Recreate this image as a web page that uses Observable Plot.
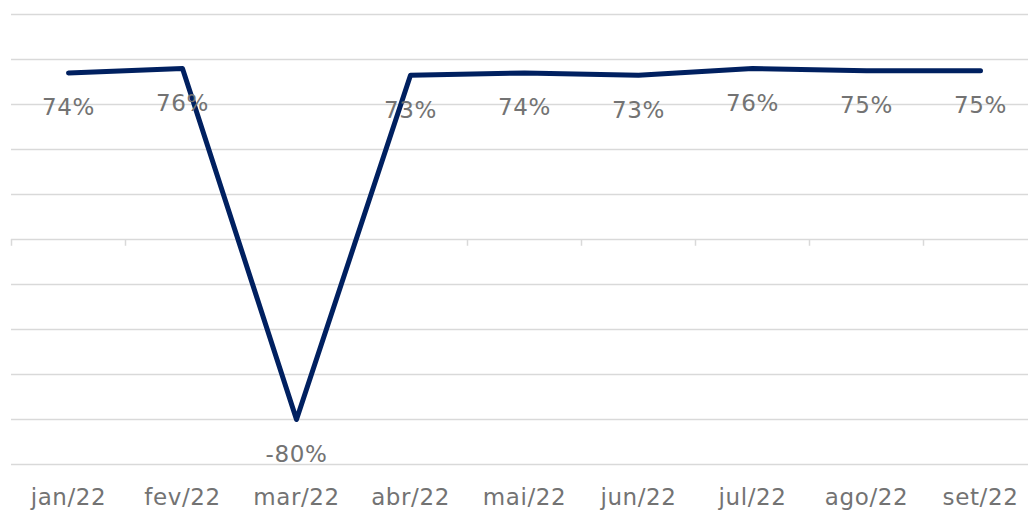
<!DOCTYPE html>
<html>
<head>
<meta charset="utf-8">
<script src="https://cdn.jsdelivr.net/npm/d3@7"></script>
<script src="https://cdn.jsdelivr.net/npm/@observablehq/plot@0.6"></script>
<style>
  html, body { margin: 0; padding: 0; background: #fff; }
  #chart svg { display: block; }
  #chart svg text { letter-spacing: 0.6px; }
</style>
</head>
<body>
<div id="chart"></div>
<script>
const months = ["jan/22", "fev/22", "mar/22", "abr/22", "mai/22", "jun/22", "jul/22", "ago/22", "set/22"];
const values = [74, 76, -80, 73, 74, 73, 76, 75, 75];
const labels = ["74%", "76%", "-80%", "73%", "74%", "73%", "76%", "75%", "75%"];
const gridValues = [-100, -80, -60, -40, -20, 0, 20, 40, 60, 80, 100];

const data = months.map((m, i) => ({month: m, value: values[i], label: labels[i]}));

const fontFamily = "'DejaVu Sans', sans-serif";
const textColor = "#737373";

const chart = Plot.plot({
  width: 1028,
  height: 512,
  marginTop: 14,
  marginBottom: 48,
  marginLeft: 11,
  marginRight: 0,
  style: {fontFamily, background: "#fff"},
  x: {type: "point", domain: months, range: [11, 1037], padding: 0.5, label: null},
  y: {domain: [-100, 100], axis: null},
  marks: [
    Plot.ruleY(gridValues, {stroke: "#d9d9d9", strokeWidth: 1.5}),
    Plot.ruleX(months, {x: d => d, y1: 0, y2: -3, dx: -57, stroke: "#d9d9d9", strokeWidth: 1.5}),
    Plot.line(data, {x: "month", y: "value", stroke: "#002060", strokeWidth: 5, strokeLinecap: "round", strokeLinejoin: "round"}),
    Plot.text(data, {x: "month", y: "value", text: "label", dy: 35, fontSize: 23, fill: textColor}),
    Plot.axisX({tickSize: 0, tickPadding: 24, fontSize: 23, fill: textColor, label: null})
  ]
});

document.getElementById("chart").appendChild(chart);
</script>
</body>
</html>
